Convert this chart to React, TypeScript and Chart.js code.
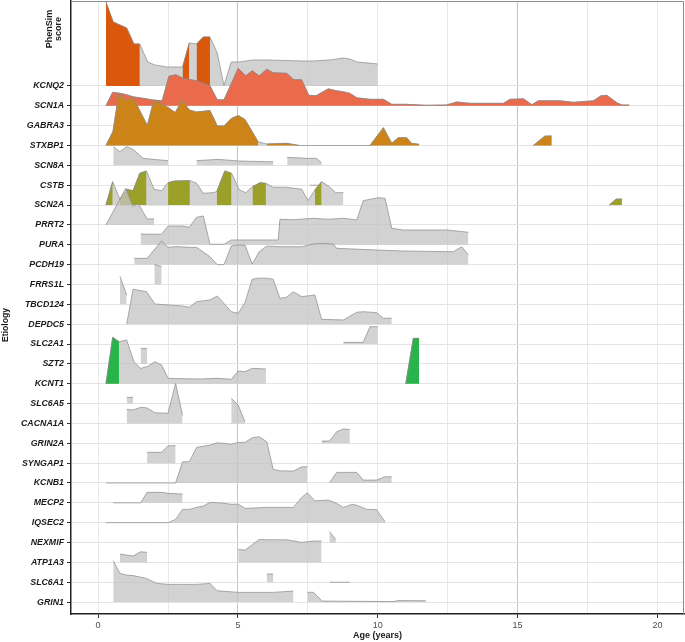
import React, { useEffect, useRef } from "react";
import { Chart, registerables } from "chart.js";
Chart.register(...registerables);

// ---------- categories / ticks ----------
const etiologies = ["KCNQ2","SCN1A","GABRA3","STXBP1","SCN8A","CSTB","SCN2A","PRRT2","PURA","PCDH19","FRRS1L","TBCD124","DEPDC5","SLC2A1","SZT2","KCNT1","SLC6A5","CACNA1A","GRIN2A","SYNGAP1","KCNB1","MECP2","IQSEC2","NEXMIF","ATP1A3","SLC6A1","GRIN1"];
const xMajorTicks = [0, 5, 10, 15, 20];
const xMinorTicks = [2.5, 7.5, 12.5, 17.5];
const X_TITLE = "Age (years)";
const Y_TITLE = "Etiology";
const TOP_TITLE = ["PhenSim", "score"];

// ---------- series (age in years, ridge height in density units; null = gap) ----------
const phensimAge = [0.28,0.54,0.78,1.02,1.28,1.49,1.77,2.03,2.45,3.02,3.26,3.52,3.76,4.0,4.26,4.5,4.76,5.07,5.51,6.03,7.28,7.69,8.29,8.77,9.0,9.25,10.0];
const phensimDens = [84,64,61,58,42,42,24,21,19,19,43,42,49,49,33,0.5,24,24,26,26,25,25,26,28,27,24,22];
const phensimHighlight = [[0.28,1.49],[3.02,3.26],[3.52,4.0]];

const scn1aAge = [0.28,0.52,0.78,1.02,1.25,1.73,1.97,2.29,2.53,2.77,3.04,3.52,4.0,4.26,4.5,5.01,5.28,5.51,5.76,6.03,6.26,6.74,7.0,7.28,7.53,7.79,8.23,8.53,8.77,9.0,9.25,9.72,10.2,10.5,11.0,11.75,12.45,12.82,13.3,14.49,14.73,15.21,15.51,15.74,16.52,17.0,17.71,17.98,18.19,18.55,18.73,18.99];
const scn1aDens = [0,13.5,12.5,11,9,7,5.8,5,29.5,31,27.5,25,20,6,6,37.5,30,35,30,36.5,33,32.5,26,26,10.5,10,17,15,14,12.5,8,6.5,6.5,1.5,1.5,0.5,0.8,3.8,2.5,2.5,6.5,7,1.1,5,5,3.5,5,10,10.5,3,0.8,0.8];
const scn1aHighlight = [[0.28,18.99]];

const stxbp1Age = [0.28,0.53,0.74,1.0,1.25,1.76,1.99,2.5,2.76,3.0,3.26,3.52,4.0,4.26,4.5,4.76,5.01,5.25,5.72,6.03,6.74,7.2,9.72,10.2,10.5,10.73,11.03,11.21,11.48,null,15.56,15.98,16.22];
const stxbp1Dens = [0,14,52,45,48,20,45,38,33,45.5,35.5,33.5,35,19.5,19.5,27,30,26,3.8,1.5,2.2,0,0,17.8,2.2,7.8,7.8,2.2,1.2,null,0,9.5,9.5];
const stxbp1Highlight = [[0.28,5.72],[6.03,7.2],[9.72,11.48],[15.56,16.22]];

const scn8aAge = [0.54,0.78,1.02,1.25,1.61,1.97,2.5,null,3.52,4.29,5.01,6.26,null,6.76,7.51,7.81,7.99];
const scn8aDens = [18.7,13.7,18.7,16,7,6,4.7,null,4.7,6,4.4,3.5,null,8,7,7,2.5];

const cstbAge = [7.57,7.99];
const cstbDens = [0,0];

const scn2aAge = [0.28,0.52,0.78,1.02,1.25,1.49,1.73,2.0,2.27,2.5,2.74,3.28,3.52,3.76,4.11,4.24,4.53,4.77,5.05,5.28,5.52,5.79,6.0,6.26,6.74,7.28,7.51,7.75,7.99,8.23,8.5,8.77,null,18.28,18.52,18.73];
const scn2aDens = [0,23.4,5.8,15.8,14.4,31.8,34.1,15.8,14.4,22.4,24.1,24.4,21.8,11.8,12.4,13.4,34.1,31.8,15.1,12.4,18.4,22.4,21.7,17.8,17.8,15.8,4.4,15.1,23.4,19.1,12.4,12.4,null,0,6,6];
const scn2aHighlight = [[0.28,0.52],[0.78,1.73],[2.5,3.28],[4.24,4.77],[5.52,6.0],[7.75,7.99],[18.28,18.73]];

const prrt2Age = [0.28,0.99,1.25,1.43,1.75,2.0];
const prrt2Dens = [0,36.6,18.2,21.6,6,6];

const puraAge = [1.52,2.27,2.5,3.02,3.26,3.52,3.76,4.0,4.5,4.76,6.44,6.5,7.0,7.69,8.23,8.77,9.25,9.48,10.02,10.26,10.5,10.91,12.47,13.24];
const puraDens = [10.7,10.5,18.8,18.8,17.5,27.5,28.8,0.5,0.5,4.8,4.8,25.5,25,26.5,25.5,26.5,24.8,44.1,47.1,46.5,16.5,14.8,14.8,12.5];

const pcdh19Age = [1.29,1.75,2.27,2.5,2.77,3.26,3.52,4.0,4.26,4.5,4.76,5.01,5.25,5.51,5.76,6.03,6.5,7.28,7.69,7.99,8.41,8.53,9.96,10.91,12.7,13.0,13.24];
const pcdh19Dens = [6.3,6.3,23.6,17.3,18,17.3,17.3,7.9,0,0,18.6,19.6,19.6,0.6,12.9,18.6,17.9,17.9,20.6,21.3,20.6,16.3,14.6,13.6,12.9,17.9,9.6];

const frrs1lAge = [2.01,2.27];
const frrs1lDens = [20,18];

const tbcd124Age = [0.78,1.02];
const tbcd124Dens = [28,9.3];

const depdc5Age = [1.02,1.25,1.73,2.03,2.5,3.02,3.26,3.52,4.0,4.26,4.76,5.01,5.25,5.51,5.76,6.03,6.26,6.5,6.74,6.98,7.28,7.75,7.99,8.77,9.25,9.48,9.96,10.2,10.5];
const depdc5Dens = [0,35,32.5,20.2,19.2,18.2,16.9,22.5,24.2,28.2,12.5,10.9,21.5,45,46,46,45,25.9,26.9,32.5,27.5,29.2,4.9,4.2,11.9,12.5,11.5,5.9,5.9];

const slc2a1Age = [8.77,9.48,9.72,10.0];
const slc2a1Dens = [1.7,1.7,17.3,17.3];

const szt2Age = [1.52,1.75];
const szt2Dens = [15.5,15.5];

const kcnt1Age = [0.28,0.52,0.75,1.02,1.28,1.52,1.75,2.03,2.27,2.5,2.77,3.64,4.26,4.76,5.01,5.25,5.51,6.0,null,11.0,11.27,11.48];
const kcnt1Dens = [0,46.4,42,43.7,22,15.4,17,22,18.7,5.4,5.2,4.7,5.4,4.4,12.7,12,15.4,14.7,null,0,45.4,45.4];
const kcnt1Highlight = [[0.28,0.75],[11.0,11.48]];

const slc6a5Age = [1.02,1.25];
const slc6a5Dens = [6.2,6.2];

const cacna1aAge = [1.02,1.25,1.52,1.75,2.03,2.5,2.77,3.02,null,4.76,5.01,5.25];
const cacna1aDens = [14.1,13.4,16.1,15.5,10.7,10.1,40.1,8,null,25.1,18.4,1.7];

const grin2aAge = [8.0,8.27,8.53,8.77,9.0];
const grin2aDens = [2.2,2.2,11.5,14.2,13.9];

const syngap1Age = [1.75,2.27,2.5,2.77];
const syngap1Dens = [10.8,10.8,17.4,17.4];

const kcnb1Age = [0.28,2.77,3.02,3.26,3.52,4.0,4.26,4.5,4.76,5.01,5.25,5.51,5.76,6.03,6.26,6.5,6.98,7.28,7.48,null,8.27,8.53,9.25,9.48,9.96,10.26,10.5];
const kcnb1Dens = [0,0,21.2,21.2,35.6,37.9,40.2,39.6,38.6,40.6,40.6,45.2,46.2,41.2,13.6,12.2,11.9,16.2,16.2,null,0,10.6,10.6,2.9,2.9,6.2,6.2];

const mecp2Age = [0.54,1.52,1.75,2.27,2.5,3.02];
const mecp2Dens = [0,0,10.5,10.5,9.5,8.8];

const iqsec2Age = [0.28,2.5,2.77,3.02,3.26,3.52,3.76,4.0,4.26,4.5,4.76,5.01,5.25,5.51,6.03,6.98,7.28,7.48,7.75,8.23,8.53,8.77,9.07,9.25,9.6,9.96,10.26];
const iqsec2Dens = [0,0,3.3,13.3,13.3,15.3,16.6,20.3,20,19.5,18.3,18.6,14.3,14.6,15.3,15.3,25.3,29.9,21.9,22.6,19.3,15.3,18.3,17.5,13.3,13,0.9];

const nexmifAge = [8.27,8.5];
const nexmifDens = [11,3];

const atp1a3Age = [0.78,1.25,1.52,1.75,null,5.01,5.25,5.76,6.03,6.74,7.28,7.69,7.99];
const atp1a3Dens = [8.3,6.3,10.6,10,null,13,12.3,23,22.6,22.6,20,21.3,21.3];

const slc6a1Age = [6.03,6.26,null,8.29,9.0];
const slc6a1Dens = [8.2,8.2,null,0,0];

const grin1Age = [0.54,0.78,1.02,1.25,1.73,2.09,2.5,3.02,3.52,4.0,4.26,4.76,5.01,6.26,6.98,null,7.48,7.7,8.01,10.55,10.73,11.72];
const grin1Dens = [41.3,28.7,27,26.5,23.7,18.7,17.7,17.7,17.7,18.7,11.3,10.3,9.7,9.7,11,null,9.8,9.8,1,0.5,1.5,1.3];

// ---------- styles ----------
const ORANGE = "#D9580C";
const RED = "#EA6B4C";
const GOLD = "#CC8418";
const OLIVE = "#9AA028";
const GREEN = "#28B44B";
const GREY_FILL = "rgba(196,195,196,0.75)";
const OUTLINE = "#8a8a8a";
const DENS_PER_ROW = 19.85;
const FONT = '"Liberation Sans", Arial, Helvetica, sans-serif';

type Ridge = { row: string; age: (number | null)[]; dens: (number | null)[]; hi: number[][]; color: string };

const ridges: Ridge[] = [
  { row: "KCNQ2", age: phensimAge, dens: phensimDens, hi: phensimHighlight, color: ORANGE },
  { row: "SCN1A", age: scn1aAge, dens: scn1aDens, hi: scn1aHighlight, color: RED },
  { row: "STXBP1", age: stxbp1Age, dens: stxbp1Dens, hi: stxbp1Highlight, color: GOLD },
  { row: "SCN8A", age: scn8aAge, dens: scn8aDens, hi: [], color: "" },
  { row: "CSTB", age: cstbAge, dens: cstbDens, hi: [], color: "" },
  { row: "SCN2A", age: scn2aAge, dens: scn2aDens, hi: scn2aHighlight, color: OLIVE },
  { row: "PRRT2", age: prrt2Age, dens: prrt2Dens, hi: [], color: "" },
  { row: "PURA", age: puraAge, dens: puraDens, hi: [], color: "" },
  { row: "PCDH19", age: pcdh19Age, dens: pcdh19Dens, hi: [], color: "" },
  { row: "FRRS1L", age: frrs1lAge, dens: frrs1lDens, hi: [], color: "" },
  { row: "TBCD124", age: tbcd124Age, dens: tbcd124Dens, hi: [], color: "" },
  { row: "DEPDC5", age: depdc5Age, dens: depdc5Dens, hi: [], color: "" },
  { row: "SLC2A1", age: slc2a1Age, dens: slc2a1Dens, hi: [], color: "" },
  { row: "SZT2", age: szt2Age, dens: szt2Dens, hi: [], color: "" },
  { row: "KCNT1", age: kcnt1Age, dens: kcnt1Dens, hi: kcnt1Highlight, color: GREEN },
  { row: "SLC6A5", age: slc6a5Age, dens: slc6a5Dens, hi: [], color: "" },
  { row: "CACNA1A", age: cacna1aAge, dens: cacna1aDens, hi: [], color: "" },
  { row: "GRIN2A", age: grin2aAge, dens: grin2aDens, hi: [], color: "" },
  { row: "SYNGAP1", age: syngap1Age, dens: syngap1Dens, hi: [], color: "" },
  { row: "KCNB1", age: kcnb1Age, dens: kcnb1Dens, hi: [], color: "" },
  { row: "MECP2", age: mecp2Age, dens: mecp2Dens, hi: [], color: "" },
  { row: "IQSEC2", age: iqsec2Age, dens: iqsec2Dens, hi: [], color: "" },
  { row: "NEXMIF", age: nexmifAge, dens: nexmifDens, hi: [], color: "" },
  { row: "ATP1A3", age: atp1a3Age, dens: atp1a3Dens, hi: [], color: "" },
  { row: "SLC6A1", age: slc6a1Age, dens: slc6a1Dens, hi: [], color: "" },
  { row: "GRIN1", age: grin1Age, dens: grin1Dens, hi: [], color: "" },
];

type P = { x: number; h: number };

function splitSegments(age: (number | null)[], dens: (number | null)[]): P[][] {
  const segs: P[][] = [];
  let cur: P[] = [];
  for (let i = 0; i < age.length; i++) {
    const a = age[i], d = dens[i];
    if (a === null || d === null) {
      if (cur.length) segs.push(cur);
      cur = [];
    } else cur.push({ x: a, h: d });
  }
  if (cur.length) segs.push(cur);
  return segs;
}

function clip(seg: P[], a: number, b: number): P[] {
  const out: P[] = [];
  const eps = 1e-9;
  for (let i = 0; i < seg.length; i++) {
    const p = seg[i];
    if (p.x >= a - eps && p.x <= b + eps) out.push(p);
    if (i < seg.length - 1) {
      const q = seg[i + 1];
      for (const c of [a, b]) {
        if (p.x < c - eps && q.x > c + eps) {
          const t = (c - p.x) / (q.x - p.x);
          out.push({ x: c, h: p.h + t * (q.h - p.h) });
        }
      }
    }
  }
  return out;
}

function closeToBase(seg: P[]): P[] {
  return [{ x: seg[0].x, h: 0 }, ...seg, { x: seg[seg.length - 1].x, h: 0 }];
}

const outlineSegment = {
  borderColor: (ctx: any) =>
    Math.abs(ctx.p0.parsed.x - ctx.p1.parsed.x) < 1e-9 ? "rgba(0,0,0,0)" : OUTLINE,
};

function makeDataset(pts: P[], base: number, fillColor: string) {
  return {
    type: "line" as const,
    data: closeToBase(pts).map((p) => ({ x: p.x, y: base + p.h / DENS_PER_ROW })),
    fill: { value: base },
    backgroundColor: fillColor,
    borderColor: OUTLINE,
    borderWidth: 0.7,
    pointRadius: 0,
    tension: 0,
    segment: outlineSegment,
  };
}

function buildDatasets() {
  const ds: any[] = [];
  // bottom rows first: Chart.js draws the first dataset on top
  const ordered = [...ridges].reverse();
  for (const r of ordered) {
    const base = etiologies.length - 1 - etiologies.indexOf(r.row);
    const segs = splitSegments(r.age, r.dens);
    for (const seg of segs) {
      for (const [a, b] of r.hi) {
        const c = clip(seg, a, b);
        if (c.length >= 2) ds.push(makeDataset(c, base, r.color));
      }
    }
    for (const seg of segs) ds.push(makeDataset(seg, base, GREY_FILL));
  }
  return ds;
}

const decorPlugin = {
  id: "decor",
  afterDraw(chart: any) {
    const { ctx, chartArea: a } = chart;
    ctx.save();
    ctx.strokeStyle = "#8c8c8c";
    ctx.lineWidth = 1;
    ctx.beginPath();
    ctx.moveTo(a.left, a.top + 0.5);
    ctx.lineTo(a.right - 0.5, a.top + 0.5);
    ctx.lineTo(a.right - 0.5, a.bottom);
    ctx.stroke();

    ctx.fillStyle = "#1a1a1a";
    ctx.textAlign = "center";
    ctx.textBaseline = "middle";
    ctx.font = `bold 9px ${FONT}`;
    ctx.fillText(X_TITLE, (a.left + a.right) / 2, 636);

    ctx.save();
    ctx.translate(6, 325);
    ctx.rotate(-Math.PI / 2);
    ctx.font = `bold 8.6px ${FONT}`;
    ctx.fillText(Y_TITLE, 0, 0);
    ctx.restore();

    ctx.font = `bold 9px ${FONT}`;
    ctx.save();
    ctx.translate(50, 29);
    ctx.rotate(-Math.PI / 2);
    ctx.fillText(TOP_TITLE[0], 0, 0);
    ctx.restore();
    ctx.save();
    ctx.translate(58.5, 29);
    ctx.rotate(-Math.PI / 2);
    ctx.fillText(TOP_TITLE[1], 0, 0);
    ctx.restore();
    ctx.restore();
  },
};

export default function App() {
  const ref = useRef<HTMLCanvasElement>(null);
  useEffect(() => {
    if (!ref.current) return;
    Chart.defaults.font.family = FONT;
    const allX = [...xMajorTicks, ...xMinorTicks].sort((p, q) => p - q);
    const chart = new Chart(ref.current, {
      type: "line",
      data: { datasets: buildDatasets() },
      options: {
        responsive: false,
        maintainAspectRatio: false,
        animation: false,
        layout: { padding: { top: 1, right: 1, left: 0, bottom: 0 } },
        plugins: { legend: { display: false }, tooltip: { enabled: false } },
        elements: { point: { radius: 0 } },
        scales: {
          x: {
            type: "linear",
            min: -0.97,
            max: 20.95,
            afterBuildTicks: (s: any) => {
              s.ticks = allX.map((v) => ({ value: v }));
            },
            afterFit: (s: any) => {
              s.height = 28;
              s.paddingLeft = 0;
              s.paddingRight = 0;
            },
            ticks: {
              autoSkip: false,
              maxRotation: 0,
              padding: 2,
              color: "#4d4d4d",
              font: { size: 9 },
              callback: (v: any) => (xMajorTicks.includes(Number(v)) ? String(v) : ""),
            },
            grid: {
              color: (c: any) => {
                const v = c.tick ? c.tick.value : 0;
                return v === 5 || v === 15 ? "#c6c6c6" : "#e8e8e8";
              },
              lineWidth: 1,
              tickLength: 4,
              tickColor: (c: any) => {
                const v = c.tick ? c.tick.value : 0;
                return xMajorTicks.includes(v) ? "#333333" : "rgba(0,0,0,0)";
              },
            },
            border: { display: true, color: "#222222", width: 1.5 },
          },
          y: {
            type: "linear",
            min: -0.6,
            max: 30.28,
            afterBuildTicks: (s: any) => {
              s.ticks = etiologies.map((_, i) => ({ value: i }));
            },
            afterFit: (s: any) => {
              s.width = 71;
              s.paddingTop = 0;
              s.paddingBottom = 0;
            },
            ticks: {
              autoSkip: false,
              padding: 3,
              color: "#1a1a1a",
              font: { size: 8.8, weight: "bold", style: "italic" },
              callback: (v: any) => etiologies[etiologies.length - 1 - Number(v)],
            },
            grid: {
              color: "#e4e4e4",
              lineWidth: 1,
              tickLength: 4,
              tickColor: "#333333",
            },
            border: { display: true, color: "#222222", width: 1.5 },
          },
        },
      } as any,
      plugins: [decorPlugin],
    });
    return () => chart.destroy();
  }, []);
  return (
    <div style={{ position: "fixed", left: 0, top: 0, width: 685, height: 642, background: "#ffffff" }}>
      <canvas ref={ref} width={685} height={642} style={{ display: "block", width: 685, height: 642 }} />
    </div>
  );
}
